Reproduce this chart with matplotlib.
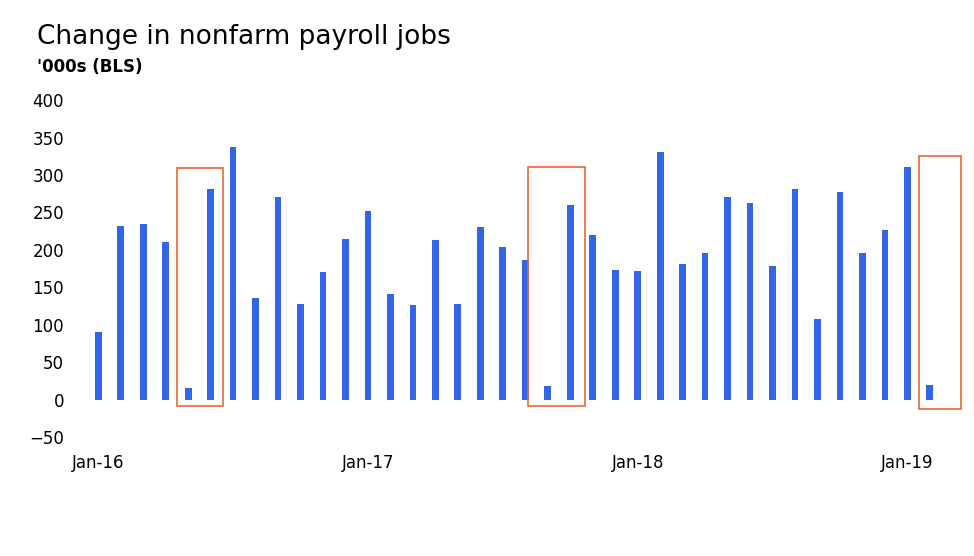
import matplotlib.pyplot as plt
from matplotlib.patches import Rectangle

# monthly change, Jan-16 .. Feb-19 ('000s)
jobs = [90, 232, 235, 211, 15, 281, 337, 135, 270, 128, 170, 215,
        252, 141, 126, 213, 128, 230, 204, 186, 18, 260, 220, 173,
        172, 330, 181, 196, 270, 262, 178, 281, 107, 277, 196, 226,
        311, 20]
tick_pos = [0, 12, 24, 36]
tick_labels = ["Jan-16", "Jan-17", "Jan-18", "Jan-19"]
# highlighted months: (start, end, top, bottom) in data units
boxes = [(3.5, 5.55, 309, -9), (19.1, 21.65, 311, -9), (36.5, 38.4, 325, -13)]

fig = plt.figure(figsize=(9.74, 5.56), dpi=100)
ax = fig.add_axes([0.087, 0.214, 0.9, 0.606])
ax.bar(range(len(jobs)), jobs, width=0.3, color="#3366e6")
for x0, x1, top, bot in boxes:
    ax.add_patch(Rectangle((x0, bot), x1 - x0, top - bot, fill=False,
                           edgecolor="#e8683a", linewidth=1.2, clip_on=False))

ax.set_xlim(-0.6, 38.4)
ax.set_ylim(-50, 400)
ax.set_yticks(range(-50, 401, 50))
ax.set_xticks(tick_pos)
ax.set_xticklabels(tick_labels)
ax.tick_params(length=0, labelsize=12, pad=12)
ax.tick_params(axis="y", pad=15)
for s in ax.spines.values():
    s.set_visible(False)

fig.text(0.038, 0.92, "Change in nonfarm payroll jobs", fontsize=19)
fig.text(0.038, 0.87, "'000s (BLS)", fontsize=12, fontweight="bold")
fig.savefig("out.png")
